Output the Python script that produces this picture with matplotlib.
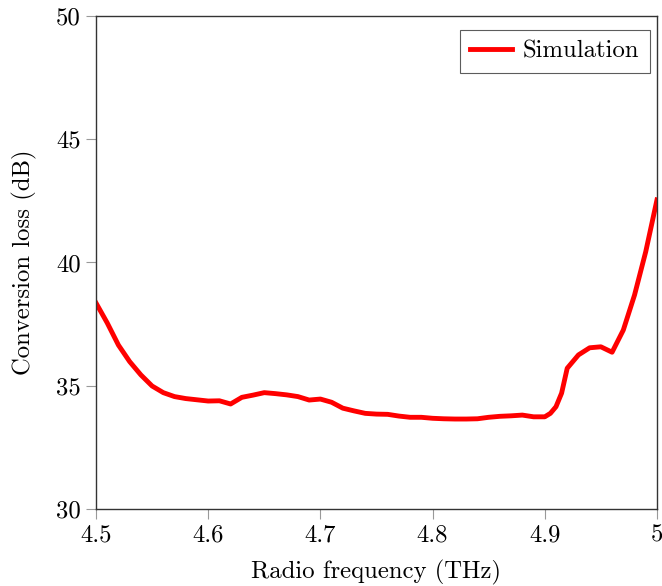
import matplotlib
matplotlib.use("Agg")
import matplotlib.pyplot as plt

plt.rcParams['font.family'] = ['cmr10', 'DejaVu Serif']
plt.rcParams['axes.formatter.use_mathtext'] = True
plt.rcParams['mathtext.fontset'] = 'cm'

# Simulated conversion loss
freq = [4.50, 4.51, 4.52, 4.53, 4.54, 4.55, 4.56, 4.57, 4.58, 4.59,
        4.60, 4.61, 4.62, 4.63, 4.64, 4.65, 4.66, 4.67, 4.68, 4.69,
        4.70, 4.71, 4.72, 4.73, 4.74, 4.75, 4.76, 4.77, 4.78, 4.79,
        4.80, 4.81, 4.82, 4.83, 4.84, 4.85, 4.86, 4.87, 4.88, 4.89,
        4.90, 4.905, 4.91, 4.915, 4.92, 4.93, 4.94, 4.95, 4.96, 4.97,
        4.98, 4.99, 5.00]
loss = [38.36, 37.55, 36.65, 35.98, 35.44, 34.99, 34.72, 34.56, 34.48, 34.43,
        34.38, 34.39, 34.26, 34.53, 34.62, 34.72, 34.68, 34.63, 34.56, 34.42,
        34.46, 34.33, 34.09, 33.98, 33.88, 33.85, 33.84, 33.77, 33.72, 33.72,
        33.68, 33.66, 33.65, 33.65, 33.66, 33.72, 33.76, 33.78, 33.81, 33.74,
        33.74, 33.88, 34.15, 34.70, 35.71, 36.25, 36.54, 36.58, 36.36, 37.26,
        38.68, 40.44, 42.54]

xticks = [4.5, 4.6, 4.7, 4.8, 4.9, 5.0]
xlabels = ['4.5', '4.6', '4.7', '4.8', '4.9', '5']
yticks = [30, 35, 40, 45, 50]

fs = 17.8

fig = plt.figure(figsize=(6.62, 5.86), dpi=100)
ax = fig.add_axes([0.145, 0.1314, 0.8474, 0.8413])

ax.plot(freq, loss, color='#ff0000', linewidth=3.5, label='Simulation')

ax.set_xlim(4.5, 5.0)
ax.set_ylim(30, 50)
ax.set_xticks(xticks)
ax.set_xticklabels(xlabels)
ax.set_yticks(yticks)
ax.set_yticklabels([str(v) for v in yticks])
ax.tick_params(direction='out', length=7, width=0.8, color='#999999',
               labelsize=fs, pad=4, top=False, right=False)

for s in ax.spines.values():
    s.set_color('#333333')
    s.set_linewidth(1.0)

ax.set_xlabel('Radio frequency (THz)', fontsize=fs, labelpad=10)
ax.set_ylabel('Conversion loss (dB)', fontsize=fs, labelpad=14)

leg = ax.legend(loc='upper right', bbox_to_anchor=(0.9875, 0.9716),
                fontsize=fs, frameon=True, fancybox=False,
                handlelength=1.7, borderpad=0.42, handletextpad=0.45,
                borderaxespad=0.0)
leg.get_frame().set_edgecolor('#333333')
leg.get_frame().set_linewidth(0.8)

fig.savefig('out.png', dpi=100)
